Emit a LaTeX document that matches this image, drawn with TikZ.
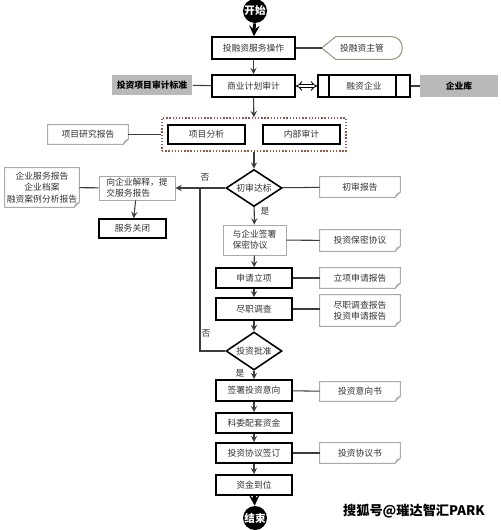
\documentclass[tikz,border=0pt]{standalone}
\usepackage{fontspec}
\usepackage{tikz}
\usetikzlibrary{shapes.geometric, arrows.meta}
\newfontfamily\cjk{Noto Sans CJK SC}
\definecolor{wire}{RGB}{60, 60, 60}
\definecolor{soft}{RGB}{170, 170, 170}
\definecolor{tag}{RGB}{185, 185, 185}
\definecolor{dots}{RGB}{150, 85, 75}
\definecolor{rim}{RGB}{160, 150, 130}

\tikzset{
  every node/.style={font=\cjk\fontsize{5}{6.4}\selectfont, inner sep=0pt, text=black!80},
  mainbox/.style={draw=black, line width=0.9pt, fill=white, minimum width=1.52cm, minimum height=0.4cm},
  softbox/.style={draw=soft, line width=0.5pt, fill=white},
  docnote/.style={minimum width=1.6cm, minimum height=0.4cm, align=center},
  tagbox/.style={fill=tag, minimum height=0.42cm, font=\cjk\bfseries\fontsize{5}{6}\selectfont, text=black},
  check/.style={diamond, aspect=1.5, draw=black, line width=0.9pt, fill=white, minimum width=1.12cm, minimum height=0.74cm},
  terminal/.style={circle, fill=black, minimum size=0.48cm, text=white, font=\cjk\bfseries\fontsize{6}{7}\selectfont},
  link/.style={draw=wire, line width=0.6pt},
  flow/.style={link, ->, >=stealth},
  bigflow/.style={draw=black, line width=1.6pt, ->, >=stealth},
}

\begin{document}
\begin{tikzpicture}[x=0.02cm, y=-0.02cm]
  \useasboundingbox[fill=white] (0, 0) rectangle (500, 530);

  % main column
  \node[terminal] (start) at (255, 11) {开始};
  \node[mainbox, minimum width=1.66cm, minimum height=0.44cm] (ops) at (253.5, 48) {投融资服务操作};
  \node[mainbox, minimum width=1.66cm, minimum height=0.44cm] (biz) at (253.5, 86) {商业计划审计};
  \node[draw=dots, densely dotted, line width=0.8pt, minimum width=3.68cm, minimum height=0.66cm] (grp) at (254, 134.5) {};
  \node[mainbox, minimum width=1.54cm, minimum height=0.38cm] (ana) at (206.5, 134.5) {项目分析};
  \node[mainbox, minimum width=1.54cm, minimum height=0.38cm] (aud) at (301.5, 134.5) {内部审计};
  \node[check] (chk) at (254, 188) {初审达标};
  \node[softbox, minimum width=1.26cm, minimum height=0.6cm, align=left] (nda) at (254.5, 240) {与企业签署\\保密协议};
  \node[mainbox] (apply) at (254, 278) {申请立项};
  \node[mainbox, minimum height=0.44cm] (dd) at (254, 309) {尽职调查};
  \node[check, minimum height=0.76cm] (appr) at (254, 351) {投资批准};
  \node[mainbox, minimum height=0.42cm] (intent) at (254, 390.5) {签署投资意向};
  \node[mainbox] (fund) at (254, 423) {科委配套资金};
  \node[mainbox] (sign) at (254, 453) {投资协议签订};
  \node[mainbox] (arrive) at (254, 485) {资金到位};
  \node[terminal] (stop) at (255, 518) {结束};

  % side nodes
  \node[minimum width=1.6cm, minimum height=0.44cm] (mgr) at (362, 48) {投融资主管};
  \node[mainbox, minimum width=1.84cm, minimum height=0.44cm] (ent) at (364, 86) {融资企业};
  \node[tagbox, minimum width=1.62cm] (std) at (152, 85) {投资项目审计标准};
  \node[tagbox, minimum width=1.56cm, minimum height=0.44cm] (lib) at (459, 86) {企业库};
  \node[softbox, minimum width=1.52cm, minimum height=0.48cm, align=left] (explain) at (137, 188) {向企业解释，提\\交服务报告};
  \node[mainbox, minimum width=1.34cm, minimum height=0.38cm] (close) at (132.5, 228.5) {服务关闭};

  \node[docnote, minimum height=0.38cm] (res) at (88, 134.5) {项目研究报告};
  \node[docnote] (chkrpt) at (360, 187) {初审报告};
  \node[docnote, minimum width=1.48cm, minimum height=0.78cm] (svcrpt) at (42, 187.5) {企业服务报告\\企业档案\\融资案例分析报告};
  \node[docnote, minimum height=0.42cm] (ndadoc) at (360, 240.5) {投资保密协议};
  \node[docnote] (applydoc) at (360, 278) {立项申请报告};
  \node[docnote, minimum height=0.62cm] (dddoc) at (360, 310.5) {尽职调查报告\\投资申请报告};
  \node[docnote, minimum height=0.38cm] (intentdoc) at (360, 391.5) {投资意向书};
  \node[docnote] (signdoc) at (360, 453) {投资协议书};

  \foreach \n in {res, chkrpt, svcrpt, ndadoc, applydoc, dddoc, intentdoc, signdoc} {
    \draw[soft, line width=0.5pt] (\n.north west) -- (\n.north east) -- ([yshift=3pt]\n.south east)
      -- ([xshift=-3pt]\n.south east) -- (\n.south west) -- cycle;
    \draw[soft, line width=0.4pt] ([yshift=3pt]\n.south east) -- ([xshift=-2pt, yshift=2pt]\n.south east) -- ([xshift=-3pt]\n.south east);
  }
  \draw[rim, line width=0.6pt] (mgr.west) -- ([xshift=8pt]mgr.north west) -- ([xshift=-6pt]mgr.north east)
    to[out=0, in=90] (mgr.east) to[out=-90, in=0] ([xshift=-6pt]mgr.south east) -- ([xshift=8pt]mgr.south west) -- cycle;
  \draw[black, line width=0.9pt] ([xshift=0.24cm]ent.north west) -- ([xshift=0.24cm]ent.south west);
  \draw[black, line width=0.9pt] ([xshift=-0.3cm]ent.north east) -- ([xshift=-0.3cm]ent.south east);

  % flow
  \draw[bigflow] (start) -- (ops);
  \draw[flow] (ops) -- (biz);
  \draw[flow] (biz) -- (grp);
  \draw[flow] (grp) -- (chk);
  \draw[flow] (chk) -- (nda);
  \draw[flow] (nda) -- (apply);
  \draw[flow] (apply) -- (dd);
  \draw[flow] (dd) -- (appr);
  \draw[flow] (appr) -- (intent);
  \draw[flow] (intent) -- (fund);
  \draw[flow] (fund) -- (sign);
  \draw[flow] (sign) -- (arrive);
  \draw[bigflow] (arrive) -- (stop);

  \coordinate (back) at (200, 188);
  \draw[flow] (chk) -- (explain);
  \draw[link] (appr) -| (back);
  \draw[flow] (explain) -- (close);
  \node (no1) at (205, 177) {否};
  \node (yes1) at (265, 211) {是};
  \node (no2) at (206, 333) {否};
  \node (yes2) at (240, 373) {是};

  % side links
  \draw[link] (ops) -- (mgr);
  \draw[line width=0.5pt, double, double distance=1.4pt, {Implies}-{Implies}] (biz) -- (ent);
  \draw[link] (std) -- (biz);
  \draw[link] (ent) -- (lib);
  \draw[link] (res) -- (grp);
  \draw[link] (chk) -- (chkrpt);
  \draw[link] (svcrpt) -- (explain);
  \draw[link] (nda) -- (ndadoc);
  \draw[link] (apply) -- (applydoc);
  \draw[link] (dd.east) -- (dd.east -| dddoc.west);
  \draw[link] (intent) -- (intentdoc);
  \draw[link] (sign) -- (signdoc);

  \node[font=\cjk\bfseries\fontsize{7.5}{9}\selectfont, text=black] (mark) at (414, 511) {搜狐号@璀达智汇PARK};
\end{tikzpicture}
\end{document}
